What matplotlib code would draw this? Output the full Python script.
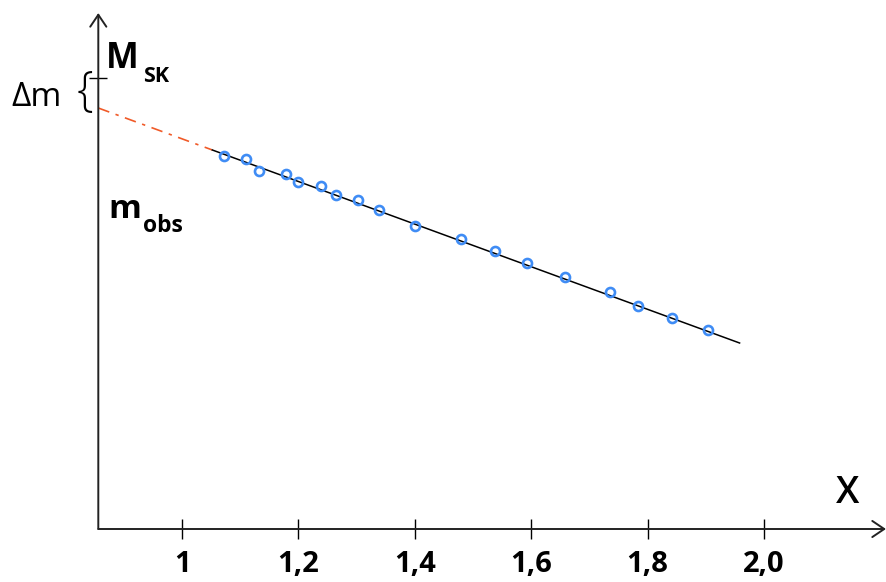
import numpy as np
import matplotlib.pyplot as plt

# measured points: air mass X vs observed magnitude (schematic units)
airmass = [1.072, 1.109, 1.132, 1.179, 1.199, 1.239, 1.265, 1.302, 1.339, 1.401,
           1.479, 1.538, 1.593, 1.658, 1.736, 1.783, 1.842, 1.903]
m_obs = [3.73, 3.70, 3.58, 3.55, 3.47, 3.43, 3.34, 3.29, 3.19, 3.03,
         2.90, 2.78, 2.66, 2.52, 2.37, 2.23, 2.11, 1.99]

# Bouguer line: fitted part and extrapolation to the axis
fit_x = [1.052, 1.958]
fit_y = [3.79, 1.86]
extrap_x = [0.856, 1.052]
extrap_y = [4.21, 3.79]

M_sk = 4.51

xticks = [1.0, 1.2, 1.4, 1.6, 1.8, 2.0]
xticklabels = ['1', '1,2', '1,4', '1,6', '1,8', '2,0']

W, H = 887, 582
plt.rcParams['font.family'] = ['Open Sans', 'DejaVu Sans']

fig = plt.figure(figsize=(W / 100, H / 100), dpi=100)
ax = fig.add_axes([98.3 / W, (H - 529) / H, 1 - 98.3 / W, 529 / H])
ax.set_xlim(0.856, 1 + (W - 182) / 582)
ax.set_ylim(0, 5.29)

for s in ax.spines.values():
    s.set_visible(False)

arrow = dict(arrowstyle='->,head_length=0.43,head_width=0.29', color='#222222',
             lw=1.4, mutation_scale=20, shrinkA=0, shrinkB=0)
ax.annotate('', xy=(0.9987, 0), xytext=(0, 0), xycoords='axes fraction',
            arrowprops=arrow, annotation_clip=False)
ax.annotate('', xy=(0, 0.9754), xytext=(0, 0), xycoords='axes fraction',
            arrowprops=arrow, annotation_clip=False)

ax.plot(extrap_x, extrap_y, color='#f05a28', lw=1.2, ls=(0, (7, 4, 2, 4)))
ax.plot(fit_x, fit_y, color='black', lw=1.1)
ax.plot(airmass, m_obs, 'o', ms=6.5, mfc='none', mec='#3f8cf5', mew=1.9)

ax.set_xticks(xticks)
ax.set_xticklabels(xticklabels, fontsize=21, fontweight='bold')
ax.tick_params(axis='x', direction='inout', length=14.5, width=1, pad=8)
ax.set_yticks([M_sk])
ax.set_yticklabels([''])
ax.tick_params(axis='y', direction='inout', length=13, width=1)


def fpos(px, py):
    return px / W, 1 - py / H


fig.text(*fpos(106, 68), 'M', fontsize=25, fontweight='bold', va='baseline')
fig.text(*fpos(143, 82), 'SK', fontsize=15.5, fontweight='bold', va='baseline')
fig.text(*fpos(11, 106.5), '\u0394m', fontsize=24, va='baseline')
fig.text(*fpos(77, 92.5), '{', fontsize=34, va='center', fontweight='light')
fig.text(*fpos(108, 218), 'm', fontsize=24, fontweight='bold', va='baseline')
fig.text(*fpos(143, 232), 'obs', fontsize=16.5, fontweight='bold', va='baseline')
fig.text(*fpos(836, 503), 'X', fontsize=27, fontweight='semibold', va='baseline')

fig.savefig('out.png', dpi=100)
